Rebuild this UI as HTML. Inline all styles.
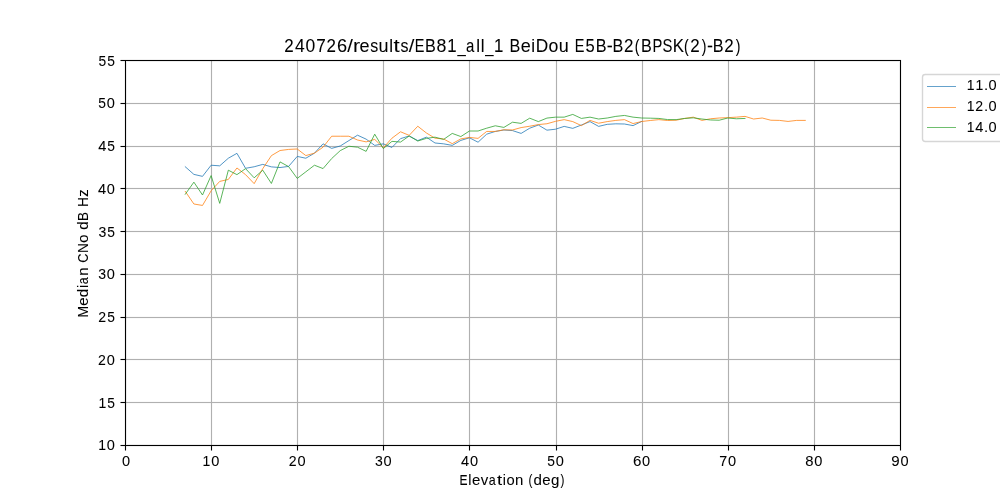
<!DOCTYPE html>
<html><head><meta charset="utf-8"><style>
html,body{margin:0;padding:0;background:#fff;overflow:hidden}
svg{display:block;will-change:transform}
</style></head><body>
<svg width="1000" height="500" viewBox="0 0 1000 500">
<rect width="1000" height="500" fill="#fff"/>
<g shape-rendering="crispEdges"><rect x="211" y="61" width="1" height="384" fill="#b0b0b0"/><rect x="297" y="61" width="1" height="384" fill="#b0b0b0"/><rect x="383" y="61" width="1" height="384" fill="#b0b0b0"/><rect x="469" y="61" width="1" height="384" fill="#b0b0b0"/><rect x="556" y="61" width="1" height="384" fill="#b0b0b0"/><rect x="642" y="61" width="1" height="384" fill="#b0b0b0"/><rect x="728" y="61" width="1" height="384" fill="#b0b0b0"/><rect x="814" y="61" width="1" height="384" fill="#b0b0b0"/><rect x="126" y="402" width="774" height="1" fill="#b0b0b0"/><rect x="126" y="359" width="774" height="1" fill="#b0b0b0"/><rect x="126" y="317" width="774" height="1" fill="#b0b0b0"/><rect x="126" y="274" width="774" height="1" fill="#b0b0b0"/><rect x="126" y="231" width="774" height="1" fill="#b0b0b0"/><rect x="126" y="188" width="774" height="1" fill="#b0b0b0"/><rect x="126" y="146" width="774" height="1" fill="#b0b0b0"/><rect x="126" y="103" width="774" height="1" fill="#b0b0b0"/><rect x="210" y="61" width="1" height="384" fill="#b0b0b0" fill-opacity="0.063"/><rect x="212" y="61" width="1" height="384" fill="#b0b0b0" fill-opacity="0.063"/><rect x="296" y="61" width="1" height="384" fill="#b0b0b0" fill-opacity="0.063"/><rect x="298" y="61" width="1" height="384" fill="#b0b0b0" fill-opacity="0.063"/><rect x="382" y="61" width="1" height="384" fill="#b0b0b0" fill-opacity="0.063"/><rect x="384" y="61" width="1" height="384" fill="#b0b0b0" fill-opacity="0.063"/><rect x="468" y="61" width="1" height="384" fill="#b0b0b0" fill-opacity="0.063"/><rect x="470" y="61" width="1" height="384" fill="#b0b0b0" fill-opacity="0.063"/><rect x="555" y="61" width="1" height="384" fill="#b0b0b0" fill-opacity="0.063"/><rect x="557" y="61" width="1" height="384" fill="#b0b0b0" fill-opacity="0.063"/><rect x="641" y="61" width="1" height="384" fill="#b0b0b0" fill-opacity="0.063"/><rect x="643" y="61" width="1" height="384" fill="#b0b0b0" fill-opacity="0.063"/><rect x="727" y="61" width="1" height="384" fill="#b0b0b0" fill-opacity="0.063"/><rect x="729" y="61" width="1" height="384" fill="#b0b0b0" fill-opacity="0.063"/><rect x="813" y="61" width="1" height="384" fill="#b0b0b0" fill-opacity="0.063"/><rect x="815" y="61" width="1" height="384" fill="#b0b0b0" fill-opacity="0.063"/><rect x="126" y="401" width="774" height="1" fill="#b0b0b0" fill-opacity="0.063"/><rect x="126" y="403" width="774" height="1" fill="#b0b0b0" fill-opacity="0.063"/><rect x="126" y="358" width="774" height="1" fill="#b0b0b0" fill-opacity="0.063"/><rect x="126" y="360" width="774" height="1" fill="#b0b0b0" fill-opacity="0.063"/><rect x="126" y="316" width="774" height="1" fill="#b0b0b0" fill-opacity="0.063"/><rect x="126" y="318" width="774" height="1" fill="#b0b0b0" fill-opacity="0.063"/><rect x="126" y="273" width="774" height="1" fill="#b0b0b0" fill-opacity="0.063"/><rect x="126" y="275" width="774" height="1" fill="#b0b0b0" fill-opacity="0.063"/><rect x="126" y="230" width="774" height="1" fill="#b0b0b0" fill-opacity="0.063"/><rect x="126" y="232" width="774" height="1" fill="#b0b0b0" fill-opacity="0.063"/><rect x="126" y="187" width="774" height="1" fill="#b0b0b0" fill-opacity="0.063"/><rect x="126" y="189" width="774" height="1" fill="#b0b0b0" fill-opacity="0.063"/><rect x="126" y="145" width="774" height="1" fill="#b0b0b0" fill-opacity="0.063"/><rect x="126" y="147" width="774" height="1" fill="#b0b0b0" fill-opacity="0.063"/><rect x="126" y="102" width="774" height="1" fill="#b0b0b0" fill-opacity="0.063"/><rect x="126" y="104" width="774" height="1" fill="#b0b0b0" fill-opacity="0.063"/><rect x="211" y="446" width="1" height="4" fill="#000"/><rect x="211" y="450" width="1" height="1" fill="#000" fill-opacity="0.5"/><rect x="210" y="446" width="1" height="4" fill="#000" fill-opacity="0.055"/><rect x="212" y="446" width="1" height="4" fill="#000" fill-opacity="0.055"/><rect x="210" y="450" width="1" height="1" fill="#000" fill-opacity="0.0275"/><rect x="212" y="450" width="1" height="1" fill="#000" fill-opacity="0.0275"/><rect x="297" y="446" width="1" height="4" fill="#000"/><rect x="297" y="450" width="1" height="1" fill="#000" fill-opacity="0.5"/><rect x="296" y="446" width="1" height="4" fill="#000" fill-opacity="0.055"/><rect x="298" y="446" width="1" height="4" fill="#000" fill-opacity="0.055"/><rect x="296" y="450" width="1" height="1" fill="#000" fill-opacity="0.0275"/><rect x="298" y="450" width="1" height="1" fill="#000" fill-opacity="0.0275"/><rect x="383" y="446" width="1" height="4" fill="#000"/><rect x="383" y="450" width="1" height="1" fill="#000" fill-opacity="0.5"/><rect x="382" y="446" width="1" height="4" fill="#000" fill-opacity="0.055"/><rect x="384" y="446" width="1" height="4" fill="#000" fill-opacity="0.055"/><rect x="382" y="450" width="1" height="1" fill="#000" fill-opacity="0.0275"/><rect x="384" y="450" width="1" height="1" fill="#000" fill-opacity="0.0275"/><rect x="469" y="446" width="1" height="4" fill="#000"/><rect x="469" y="450" width="1" height="1" fill="#000" fill-opacity="0.5"/><rect x="468" y="446" width="1" height="4" fill="#000" fill-opacity="0.055"/><rect x="470" y="446" width="1" height="4" fill="#000" fill-opacity="0.055"/><rect x="468" y="450" width="1" height="1" fill="#000" fill-opacity="0.0275"/><rect x="470" y="450" width="1" height="1" fill="#000" fill-opacity="0.0275"/><rect x="556" y="446" width="1" height="4" fill="#000"/><rect x="556" y="450" width="1" height="1" fill="#000" fill-opacity="0.5"/><rect x="555" y="446" width="1" height="4" fill="#000" fill-opacity="0.055"/><rect x="557" y="446" width="1" height="4" fill="#000" fill-opacity="0.055"/><rect x="555" y="450" width="1" height="1" fill="#000" fill-opacity="0.0275"/><rect x="557" y="450" width="1" height="1" fill="#000" fill-opacity="0.0275"/><rect x="642" y="446" width="1" height="4" fill="#000"/><rect x="642" y="450" width="1" height="1" fill="#000" fill-opacity="0.5"/><rect x="641" y="446" width="1" height="4" fill="#000" fill-opacity="0.055"/><rect x="643" y="446" width="1" height="4" fill="#000" fill-opacity="0.055"/><rect x="641" y="450" width="1" height="1" fill="#000" fill-opacity="0.0275"/><rect x="643" y="450" width="1" height="1" fill="#000" fill-opacity="0.0275"/><rect x="728" y="446" width="1" height="4" fill="#000"/><rect x="728" y="450" width="1" height="1" fill="#000" fill-opacity="0.5"/><rect x="727" y="446" width="1" height="4" fill="#000" fill-opacity="0.055"/><rect x="729" y="446" width="1" height="4" fill="#000" fill-opacity="0.055"/><rect x="727" y="450" width="1" height="1" fill="#000" fill-opacity="0.0275"/><rect x="729" y="450" width="1" height="1" fill="#000" fill-opacity="0.0275"/><rect x="814" y="446" width="1" height="4" fill="#000"/><rect x="814" y="450" width="1" height="1" fill="#000" fill-opacity="0.5"/><rect x="813" y="446" width="1" height="4" fill="#000" fill-opacity="0.055"/><rect x="815" y="446" width="1" height="4" fill="#000" fill-opacity="0.055"/><rect x="813" y="450" width="1" height="1" fill="#000" fill-opacity="0.0275"/><rect x="815" y="450" width="1" height="1" fill="#000" fill-opacity="0.0275"/><rect x="125" y="446" width="1" height="4" fill="#000"/><rect x="125" y="450" width="1" height="1" fill="#000" fill-opacity="0.5"/><rect x="124" y="446" width="1" height="4" fill="#000" fill-opacity="0.055"/><rect x="126" y="446" width="1" height="4" fill="#000" fill-opacity="0.055"/><rect x="124" y="450" width="1" height="1" fill="#000" fill-opacity="0.0275"/><rect x="126" y="450" width="1" height="1" fill="#000" fill-opacity="0.0275"/><rect x="900" y="446" width="1" height="4" fill="#000"/><rect x="900" y="450" width="1" height="1" fill="#000" fill-opacity="0.5"/><rect x="899" y="446" width="1" height="4" fill="#000" fill-opacity="0.055"/><rect x="901" y="446" width="1" height="4" fill="#000" fill-opacity="0.055"/><rect x="899" y="450" width="1" height="1" fill="#000" fill-opacity="0.0275"/><rect x="901" y="450" width="1" height="1" fill="#000" fill-opacity="0.0275"/><rect x="121" y="402" width="4" height="1" fill="#000"/><rect x="120" y="402" width="1" height="1" fill="#000" fill-opacity="0.5"/><rect x="121" y="401" width="4" height="1" fill="#000" fill-opacity="0.055"/><rect x="121" y="403" width="4" height="1" fill="#000" fill-opacity="0.055"/><rect x="120" y="401" width="1" height="1" fill="#000" fill-opacity="0.0275"/><rect x="120" y="403" width="1" height="1" fill="#000" fill-opacity="0.0275"/><rect x="121" y="359" width="4" height="1" fill="#000"/><rect x="120" y="359" width="1" height="1" fill="#000" fill-opacity="0.5"/><rect x="121" y="358" width="4" height="1" fill="#000" fill-opacity="0.055"/><rect x="121" y="360" width="4" height="1" fill="#000" fill-opacity="0.055"/><rect x="120" y="358" width="1" height="1" fill="#000" fill-opacity="0.0275"/><rect x="120" y="360" width="1" height="1" fill="#000" fill-opacity="0.0275"/><rect x="121" y="317" width="4" height="1" fill="#000"/><rect x="120" y="317" width="1" height="1" fill="#000" fill-opacity="0.5"/><rect x="121" y="316" width="4" height="1" fill="#000" fill-opacity="0.055"/><rect x="121" y="318" width="4" height="1" fill="#000" fill-opacity="0.055"/><rect x="120" y="316" width="1" height="1" fill="#000" fill-opacity="0.0275"/><rect x="120" y="318" width="1" height="1" fill="#000" fill-opacity="0.0275"/><rect x="121" y="274" width="4" height="1" fill="#000"/><rect x="120" y="274" width="1" height="1" fill="#000" fill-opacity="0.5"/><rect x="121" y="273" width="4" height="1" fill="#000" fill-opacity="0.055"/><rect x="121" y="275" width="4" height="1" fill="#000" fill-opacity="0.055"/><rect x="120" y="273" width="1" height="1" fill="#000" fill-opacity="0.0275"/><rect x="120" y="275" width="1" height="1" fill="#000" fill-opacity="0.0275"/><rect x="121" y="231" width="4" height="1" fill="#000"/><rect x="120" y="231" width="1" height="1" fill="#000" fill-opacity="0.5"/><rect x="121" y="230" width="4" height="1" fill="#000" fill-opacity="0.055"/><rect x="121" y="232" width="4" height="1" fill="#000" fill-opacity="0.055"/><rect x="120" y="230" width="1" height="1" fill="#000" fill-opacity="0.0275"/><rect x="120" y="232" width="1" height="1" fill="#000" fill-opacity="0.0275"/><rect x="121" y="188" width="4" height="1" fill="#000"/><rect x="120" y="188" width="1" height="1" fill="#000" fill-opacity="0.5"/><rect x="121" y="187" width="4" height="1" fill="#000" fill-opacity="0.055"/><rect x="121" y="189" width="4" height="1" fill="#000" fill-opacity="0.055"/><rect x="120" y="187" width="1" height="1" fill="#000" fill-opacity="0.0275"/><rect x="120" y="189" width="1" height="1" fill="#000" fill-opacity="0.0275"/><rect x="121" y="146" width="4" height="1" fill="#000"/><rect x="120" y="146" width="1" height="1" fill="#000" fill-opacity="0.5"/><rect x="121" y="145" width="4" height="1" fill="#000" fill-opacity="0.055"/><rect x="121" y="147" width="4" height="1" fill="#000" fill-opacity="0.055"/><rect x="120" y="145" width="1" height="1" fill="#000" fill-opacity="0.0275"/><rect x="120" y="147" width="1" height="1" fill="#000" fill-opacity="0.0275"/><rect x="121" y="103" width="4" height="1" fill="#000"/><rect x="120" y="103" width="1" height="1" fill="#000" fill-opacity="0.5"/><rect x="121" y="102" width="4" height="1" fill="#000" fill-opacity="0.055"/><rect x="121" y="104" width="4" height="1" fill="#000" fill-opacity="0.055"/><rect x="120" y="102" width="1" height="1" fill="#000" fill-opacity="0.0275"/><rect x="120" y="104" width="1" height="1" fill="#000" fill-opacity="0.0275"/><rect x="121" y="60" width="4" height="1" fill="#000"/><rect x="120" y="60" width="1" height="1" fill="#000" fill-opacity="0.5"/><rect x="121" y="59" width="4" height="1" fill="#000" fill-opacity="0.055"/><rect x="121" y="61" width="4" height="1" fill="#000" fill-opacity="0.055"/><rect x="120" y="59" width="1" height="1" fill="#000" fill-opacity="0.0275"/><rect x="120" y="61" width="1" height="1" fill="#000" fill-opacity="0.0275"/><rect x="121" y="445" width="4" height="1" fill="#000"/><rect x="120" y="445" width="1" height="1" fill="#000" fill-opacity="0.5"/><rect x="121" y="444" width="4" height="1" fill="#000" fill-opacity="0.055"/><rect x="121" y="446" width="4" height="1" fill="#000" fill-opacity="0.055"/><rect x="120" y="444" width="1" height="1" fill="#000" fill-opacity="0.0275"/><rect x="120" y="446" width="1" height="1" fill="#000" fill-opacity="0.0275"/></g>
<polyline points="185.28,166.77 193.89,174.39 202.50,176.36 211.11,165.23 219.72,165.83 228.33,158.22 236.94,153.34 245.56,168.31 254.17,166.77 262.78,164.38 271.39,166.86 280.00,167.54 288.61,166.43 297.22,156.42 305.83,158.22 314.44,153.17 323.06,143.84 331.67,148.38 340.28,145.98 348.89,140.59 357.50,135.20 366.11,139.14 374.72,145.38 383.33,143.84 391.94,147.44 400.56,138.63 409.17,135.97 417.78,140.59 426.39,137.17 435.00,142.99 443.61,143.84 452.22,145.38 460.83,140.42 469.44,137.77 478.06,142.22 486.67,134.18 495.28,131.44 503.89,129.98 512.50,130.58 521.11,133.41 529.72,128.19 538.33,125.02 546.94,130.16 555.56,129.21 564.17,126.39 572.78,128.36 581.39,125.02 590.00,121.60 598.61,126.39 607.22,124.34 615.83,123.82 624.44,124.00 633.06,125.62 641.67,121.43" fill="none" stroke="#1f77b4" stroke-width="0.78" stroke-linejoin="round" stroke-linecap="square"/>
<polyline points="185.28,191.41 193.89,203.99 202.50,205.44 211.11,190.81 219.72,181.40 228.33,179.44 236.94,167.97 245.56,174.64 254.17,183.63 262.78,168.66 271.39,155.65 280.00,150.52 288.61,149.41 297.22,148.98 305.83,155.57 314.44,153.17 323.06,147.18 331.67,136.23 340.28,136.23 348.89,136.23 357.50,139.99 366.11,141.88 374.72,139.40 383.33,147.78 391.94,138.20 400.56,131.78 409.17,135.37 417.78,126.22 426.39,132.98 435.00,138.20 443.61,138.97 452.22,143.67 460.83,138.88 469.44,137.43 478.06,138.37 486.67,131.44 495.28,131.44 503.89,129.81 512.50,129.98 521.11,127.59 529.72,126.22 538.33,124.59 546.94,123.74 555.56,121.34 564.17,119.63 572.78,121.60 581.39,125.62 590.00,120.40 598.61,123.23 607.22,121.60 615.83,120.40 624.44,119.63 633.06,123.57 641.67,121.51 650.28,120.49 658.89,119.63 667.50,120.49 676.11,120.23 684.72,118.43 693.33,117.15 701.94,120.40 710.56,118.78 719.17,118.01 727.78,117.66 736.39,117.15 745.00,116.38 753.61,119.03 762.22,118.01 770.83,120.23 779.44,120.40 788.06,121.43 796.67,120.40 805.28,120.40" fill="none" stroke="#ff7f0e" stroke-width="0.78" stroke-linejoin="round" stroke-linecap="square"/>
<polyline points="185.28,194.24 193.89,182.17 202.50,195.01 211.11,175.59 219.72,203.39 228.33,170.20 236.94,174.64 245.56,168.66 254.17,177.81 262.78,170.20 271.39,183.46 280.00,161.90 288.61,166.60 297.22,178.41 305.83,171.82 314.44,165.23 323.06,168.57 331.67,158.56 340.28,150.60 348.89,146.24 357.50,147.18 366.11,151.37 374.72,134.18 383.33,148.55 391.94,141.36 400.56,142.05 409.17,135.97 417.78,141.02 426.39,138.37 435.00,137.17 443.61,139.40 452.22,133.41 460.83,136.57 469.44,131.01 478.06,131.01 486.67,128.19 495.28,125.79 503.89,127.42 512.50,122.20 521.11,123.40 529.72,118.18 538.33,121.60 546.94,118.09 555.56,117.15 564.17,117.15 572.78,114.41 581.39,118.43 590.00,117.15 598.61,119.03 607.22,118.01 615.83,116.38 624.44,115.44 633.06,117.15 641.67,118.01 650.28,118.18 658.89,118.43 667.50,119.55 676.11,119.63 684.72,118.43 693.33,117.84 701.94,119.03 710.56,119.97 719.17,120.23 727.78,118.01 736.39,118.78 745.00,118.43" fill="none" stroke="#2ca02c" stroke-width="0.78" stroke-linejoin="round" stroke-linecap="square"/>
<g shape-rendering="crispEdges"><rect x="125" y="60" width="776" height="1" fill="#000"/><rect x="125" y="445" width="776" height="1" fill="#000"/><rect x="125" y="61" width="1" height="384" fill="#000"/><rect x="900" y="61" width="1" height="384" fill="#000"/><rect x="124" y="60" width="1" height="386" fill="#000" fill-opacity="0.055"/><rect x="901" y="60" width="1" height="386" fill="#000" fill-opacity="0.055"/><rect x="125" y="59" width="776" height="1" fill="#000" fill-opacity="0.055"/><rect x="125" y="446" width="776" height="1" fill="#000" fill-opacity="0.055"/><rect x="126" y="61" width="774" height="1" fill="#000" fill-opacity="0.0745"/><rect x="126" y="444" width="774" height="1" fill="#000" fill-opacity="0.0745"/><rect x="126" y="62" width="1" height="382" fill="#000" fill-opacity="0.0745"/><rect x="899" y="62" width="1" height="382" fill="#000" fill-opacity="0.0745"/></g>
<g font-family='"Liberation Sans", sans-serif' fill="#000" stroke="#000" stroke-width="0.06"><g font-size="14.58"><text x="121.94" y="465.5">0</text></g><g font-size="14.58"><text transform="translate(206.52,465.5) scale(0.959,1)" x="-4.25">1</text><text x="211.16" y="465.5">0</text></g><g font-size="14.58"><text transform="translate(292.57,465.5) scale(0.968,1)" x="-4.06">2</text><text x="297.53" y="465.5">0</text></g><g font-size="14.58"><text transform="translate(378.82,465.5) scale(0.964,1)" x="-4.01">3</text><text x="383.62" y="465.5">0</text></g><g font-size="14.58"><text x="461.09" y="465.5">4</text><text x="469.92" y="465.5">0</text></g><g font-size="14.58"><text transform="translate(551.00,465.5) scale(0.947,1)" x="-4.04">5</text><text x="555.84" y="465.5">0</text></g><g font-size="14.58"><text transform="translate(637.28,465.5) scale(1.039,1)" x="-4.11">6</text><text x="642.00" y="465.5">0</text></g><g font-size="14.58"><text transform="translate(723.23,465.5) scale(0.982,1)" x="-4.06">7</text><text x="728.02" y="465.5">0</text></g><g font-size="14.58"><text transform="translate(809.46,465.5) scale(1.015,1)" x="-4.06">8</text><text x="814.23" y="465.5">0</text></g><g font-size="14.58"><text transform="translate(895.56,465.5) scale(1.037,1)" x="-4.05">9</text><text x="900.38" y="465.5">0</text></g><g font-size="14.58"><text transform="translate(102.20,449.5) scale(0.959,1)" x="-4.25">1</text><text x="106.85" y="449.5">0</text></g><g font-size="14.58"><text transform="translate(102.49,407.5) scale(0.959,1)" x="-4.25">1</text><text transform="translate(111.12,407.5) scale(0.947,1)" x="-4.04">5</text></g><g font-size="14.58"><text transform="translate(101.89,364.5) scale(0.968,1)" x="-4.06">2</text><text x="106.85" y="364.5">0</text></g><g font-size="14.58"><text transform="translate(102.18,321.5) scale(0.968,1)" x="-4.06">2</text><text transform="translate(111.12,321.5) scale(0.947,1)" x="-4.04">5</text></g><g font-size="14.58"><text transform="translate(102.05,278.5) scale(0.964,1)" x="-4.01">3</text><text x="106.85" y="278.5">0</text></g><g font-size="14.58"><text transform="translate(102.34,236.5) scale(0.964,1)" x="-4.01">3</text><text transform="translate(111.12,236.5) scale(0.947,1)" x="-4.04">5</text></g><g font-size="14.58"><text x="98.02" y="193.5">4</text><text x="106.85" y="193.5">0</text></g><g font-size="14.58"><text x="98.31" y="150.5">4</text><text transform="translate(111.12,150.5) scale(0.947,1)" x="-4.04">5</text></g><g font-size="14.58"><text transform="translate(102.01,107.5) scale(0.947,1)" x="-4.04">5</text><text x="106.85" y="107.5">0</text></g><g font-size="14.58"><text transform="translate(102.30,65.5) scale(0.947,1)" x="-4.04">5</text><text transform="translate(111.12,65.5) scale(0.947,1)" x="-4.04">5</text></g></g>
<g font-family='"Liberation Sans", sans-serif' fill="#000" stroke="#000" stroke-width="0.06">
<g font-size="14.58"><text transform="translate(463.77,484.5) scale(0.825,1)" x="-5.15">E</text><text transform="translate(469.84,484.5) scale(0.974,1)" x="-1.62">l</text><text transform="translate(476.05,484.5) scale(1.029,1)" x="-4.04">e</text><text transform="translate(484.41,484.5) scale(1.028,1)" x="-3.65">v</text><text transform="translate(492.55,484.5) scale(0.856,1)" x="-4.37">a</text><text transform="translate(499.76,484.5) scale(1.273,1)" x="-2.08">t</text><text transform="translate(504.39,484.5) scale(0.974,1)" x="-1.62">i</text><text transform="translate(510.56,484.5) scale(1.012,1)" x="-4.06">o</text><text transform="translate(519.24,484.5) scale(1.027,1)" x="-4.07">n</text><text x="523.77" y="484.5">&#160;</text><text transform="translate(530.75,484.5) scale(0.805,1)" x="-2.84">(</text><text transform="translate(537.58,484.5) scale(1.035,1)" x="-3.89">d</text><text transform="translate(546.51,484.5) scale(1.029,1)" x="-4.04">e</text><text transform="translate(554.92,484.5) scale(1.035,1)" x="-3.89">g</text><text transform="translate(562.24,484.5) scale(0.805,1)" x="-2.02">)</text></g>
<g transform="translate(87.5,253.25) rotate(-90)"><g font-size="14.58"><text transform="translate(-58.54,0) scale(0.950,1)" x="-6.07">M</text><text transform="translate(-48.28,0) scale(1.029,1)" x="-4.04">e</text><text transform="translate(-39.87,0) scale(1.035,1)" x="-3.89">d</text><text transform="translate(-33.29,0) scale(0.974,1)" x="-1.62">i</text><text transform="translate(-27.32,0) scale(0.856,1)" x="-4.37">a</text><text transform="translate(-18.42,0) scale(1.027,1)" x="-4.07">n</text><text x="-13.89" y="0">&#160;</text><text transform="translate(-4.80,0) scale(0.884,1)" x="-5.36">C</text><text transform="translate(5.22,0) scale(0.941,1)" x="-5.27">N</text><text transform="translate(14.66,0) scale(1.012,1)" x="-4.06">o</text><text x="19.08" y="0">&#160;</text><text transform="translate(27.47,0) scale(1.035,1)" x="-3.89">d</text><text transform="translate(37.07,0) scale(0.925,1)" x="-5.08">B</text><text x="41.82" y="0">&#160;</text><text transform="translate(51.27,0) scale(0.947,1)" x="-5.27">H</text><text transform="translate(60.12,0) scale(1.020,1)" x="-3.58">z</text></g></g>
<g font-size="17.50"><text transform="translate(288.98,51.5) scale(0.968,1)" x="-4.87">2</text><text x="294.91" y="51.5">4</text><text x="305.49" y="51.5">0</text><text transform="translate(320.91,51.5) scale(0.982,1)" x="-4.87">7</text><text transform="translate(331.29,51.5) scale(0.968,1)" x="-4.87">2</text><text transform="translate(342.15,51.5) scale(1.039,1)" x="-4.93">6</text><text transform="translate(350.18,51.5) scale(1.155,1)" x="-2.43">/</text><text transform="translate(357.15,51.5) scale(1.220,1)" x="-3.35">r</text><text transform="translate(364.57,51.5) scale(1.029,1)" x="-4.85">e</text><text transform="translate(374.05,51.5) scale(0.913,1)" x="-4.30">s</text><text transform="translate(383.55,51.5) scale(1.027,1)" x="-4.85">u</text><text transform="translate(391.18,51.5) scale(0.974,1)" x="-1.95">l</text><text transform="translate(396.77,51.5) scale(1.273,1)" x="-2.50">t</text><text transform="translate(404.38,51.5) scale(0.913,1)" x="-4.30">s</text><text transform="translate(411.46,51.5) scale(1.155,1)" x="-2.43">/</text><text transform="translate(419.81,51.5) scale(0.825,1)" x="-6.18">E</text><text transform="translate(430.71,51.5) scale(0.925,1)" x="-6.09">B</text><text transform="translate(441.47,51.5) scale(1.015,1)" x="-4.87">8</text><text transform="translate(452.19,51.5) scale(0.959,1)" x="-5.11">1</text><text transform="translate(461.49,51.5) scale(0.849,1)" x="-4.83">_</text><text transform="translate(470.49,51.5) scale(0.856,1)" x="-5.24">a</text><text transform="translate(478.14,51.5) scale(0.974,1)" x="-1.95">l</text><text transform="translate(482.76,51.5) scale(0.974,1)" x="-1.95">l</text><text transform="translate(489.23,51.5) scale(0.849,1)" x="-4.83">_</text><text transform="translate(498.82,51.5) scale(0.959,1)" x="-5.11">1</text><text x="504.17" y="51.5">&#160;</text><text transform="translate(515.18,51.5) scale(0.925,1)" x="-6.09">B</text><text transform="translate(525.78,51.5) scale(1.029,1)" x="-4.85">e</text><text transform="translate(533.19,51.5) scale(0.974,1)" x="-1.94">i</text><text transform="translate(542.23,51.5) scale(0.985,1)" x="-6.62">D</text><text transform="translate(553.39,51.5) scale(1.012,1)" x="-4.87">o</text><text transform="translate(563.69,51.5) scale(1.027,1)" x="-4.85">u</text><text x="569.22" y="51.5">&#160;</text><text transform="translate(579.83,51.5) scale(0.825,1)" x="-6.18">E</text><text transform="translate(590.00,51.5) scale(0.947,1)" x="-4.85">5</text><text transform="translate(601.31,51.5) scale(0.925,1)" x="-6.09">B</text><text transform="translate(609.78,51.5) scale(1.027,1)" x="-2.91">-</text><text transform="translate(618.09,51.5) scale(0.925,1)" x="-6.09">B</text><text transform="translate(628.63,51.5) scale(0.968,1)" x="-4.87">2</text><text transform="translate(637.43,51.5) scale(0.805,1)" x="-3.41">(</text><text transform="translate(646.56,51.5) scale(0.925,1)" x="-6.09">B</text><text transform="translate(657.58,51.5) scale(0.842,1)" x="-6.09">P</text><text transform="translate(667.42,51.5) scale(0.849,1)" x="-5.83">S</text><text transform="translate(679.05,51.5) scale(0.960,1)" x="-6.46">K</text><text transform="translate(686.80,51.5) scale(0.805,1)" x="-3.41">(</text><text transform="translate(695.06,51.5) scale(0.968,1)" x="-4.87">2</text><text transform="translate(703.76,51.5) scale(0.805,1)" x="-2.42">)</text><text transform="translate(710.05,51.5) scale(1.027,1)" x="-2.91">-</text><text transform="translate(718.37,51.5) scale(0.925,1)" x="-6.09">B</text><text transform="translate(728.90,51.5) scale(0.968,1)" x="-4.87">2</text><text transform="translate(737.61,51.5) scale(0.805,1)" x="-2.42">)</text></g>
</g>
<rect x="922.5" y="74.5" width="100" height="67" rx="2.78" ry="2.78" fill="#fff" fill-opacity="0.8" stroke="#cccccc" stroke-opacity="0.8" stroke-width="1.389"/><line x1="927.5" y1="86.50" x2="955.5" y2="86.50" stroke="#1f77b4" stroke-width="0.69" stroke-linecap="square"/><g font-size="14.58" font-family='"Liberation Sans", sans-serif' stroke="#000" stroke-width="0.06"><text transform="translate(970.71,89.5) scale(0.959,1)" x="-4.25">1</text><text transform="translate(979.54,89.5) scale(0.959,1)" x="-4.25">1</text><text transform="translate(986.03,89.5) scale(1.031,1)" x="-2.03">.</text><text x="988.60" y="89.5">0</text></g><line x1="927.5" y1="107.50" x2="955.5" y2="107.50" stroke="#ff7f0e" stroke-width="0.69" stroke-linecap="square"/><g font-size="14.58" font-family='"Liberation Sans", sans-serif' stroke="#000" stroke-width="0.06"><text transform="translate(970.71,110.5) scale(0.959,1)" x="-4.25">1</text><text transform="translate(979.23,110.5) scale(0.968,1)" x="-4.06">2</text><text transform="translate(986.03,110.5) scale(1.031,1)" x="-2.03">.</text><text x="988.60" y="110.5">0</text></g><line x1="927.5" y1="127.50" x2="955.5" y2="127.50" stroke="#2ca02c" stroke-width="0.69" stroke-linecap="square"/><g font-size="14.58" font-family='"Liberation Sans", sans-serif' stroke="#000" stroke-width="0.06"><text transform="translate(970.71,131.5) scale(0.959,1)" x="-4.25">1</text><text x="975.36" y="131.5">4</text><text transform="translate(986.03,131.5) scale(1.031,1)" x="-2.03">.</text><text x="988.60" y="131.5">0</text></g>
</svg>
</body></html>
